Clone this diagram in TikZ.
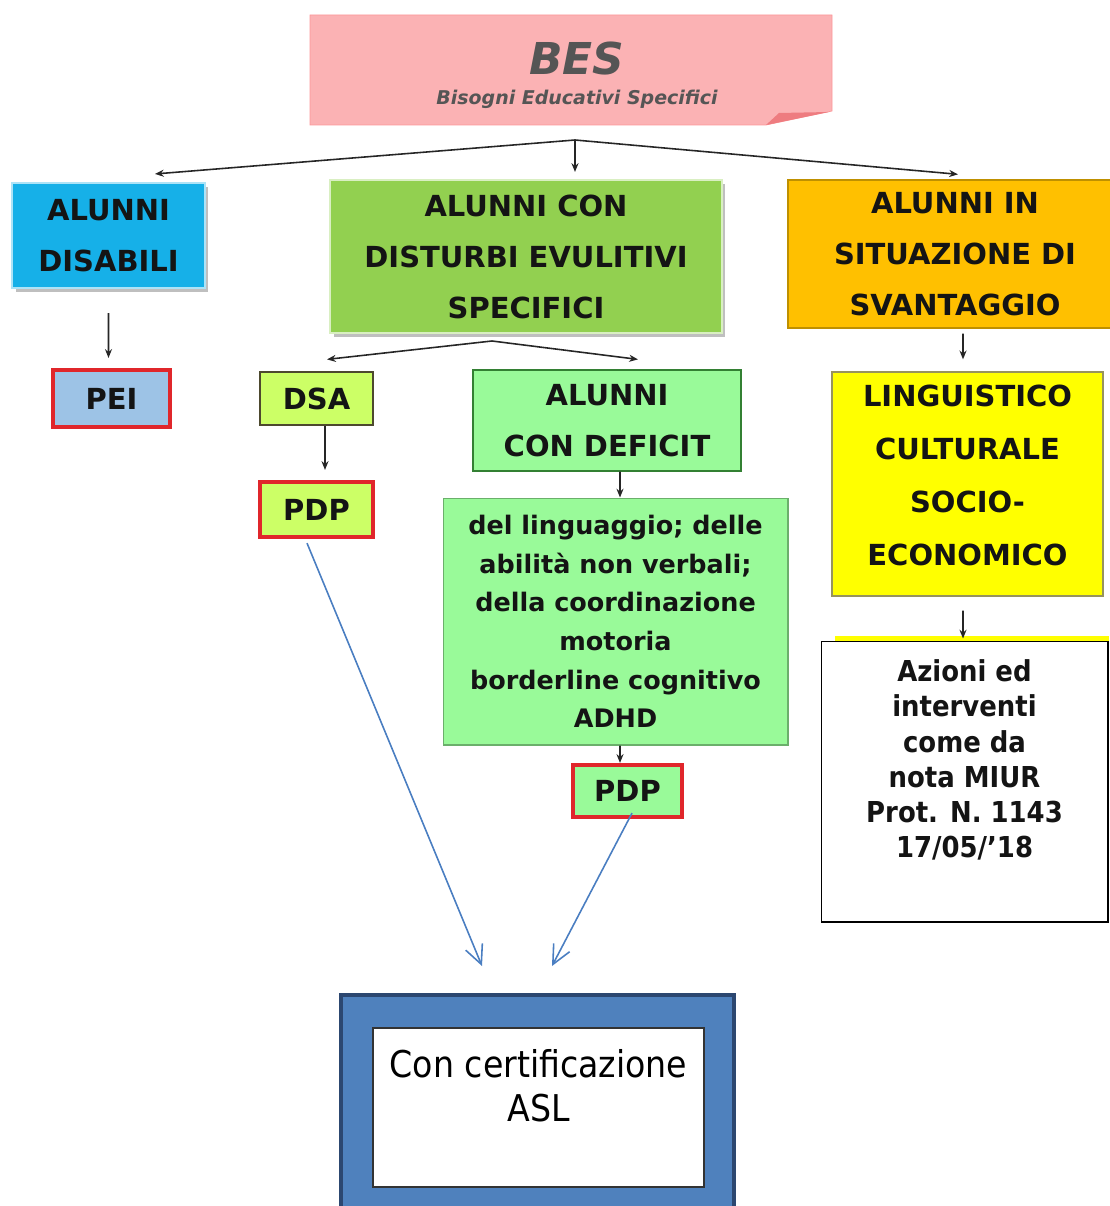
\documentclass[tikz,border=0pt]{standalone}
\usepackage{xcolor}
\usepackage{fontspec}
\setmainfont{DejaVu Sans}
\newfontfamily\tahoma{DejaVu Sans Condensed}[BoldFont={DejaVu Sans Condensed Bold}]
\usepackage{tikz}
\usetikzlibrary{arrows.meta, positioning, shadows}

\definecolor{besPink}{HTML}{FBB2B4}
\definecolor{besFold}{HTML}{EE7C80}
\definecolor{besText}{HTML}{555555}
\definecolor{disCyan}{HTML}{16B0E8}
\definecolor{dseGreen}{HTML}{92D050}
\definecolor{svOrange}{HTML}{FFC000}
\definecolor{dsaLime}{HTML}{CCFF66}
\definecolor{defGreen}{HTML}{99FA99}
\definecolor{socYellow}{HTML}{FFFF00}
\definecolor{peiBlue}{HTML}{9DC3E6}
\definecolor{pdpRed}{HTML}{E0262B}
\definecolor{aslBlue}{HTML}{4F81BD}
\definecolor{aslNavy}{HTML}{2C4770}
\definecolor{linkBlue}{HTML}{4A7EC1}
\definecolor{inkDark}{HTML}{141414}

\tikzset{
	capbox/.style={inner sep=0pt, align=center, text=inkDark, font=\bfseries\fontsize{16.5}{29}\selectfont, fill=#1},
	softbox/.style={capbox=#1, draw=white!65!#1, line width=1.2pt, drop shadow={shadow xshift=2pt, shadow yshift=-2pt, fill=black!25, opacity=1}},
	planbox/.style={capbox=#1, draw=pdpRed, line width=2.4pt},
	linkarr/.style={-{Stealth[length=5pt, width=4pt]}, line width=0.9pt, draw=black!85},
	certarr/.style={-{Straight Barb[length=0.38cm, width=0.36cm]}, line width=0.9pt, draw=linkBlue},
}

\begin{document}
\begin{tikzpicture}[x=0.02cm, y=-0.02cm]
	\useasboundingbox (0,0) rectangle (1109,1206);

	% BES header
	\filldraw[fill=besPink, draw=besPink!85!red] (310,15) -- (832,15) -- (832,111) -- (766,125) -- (310,125) -- cycle;
	\fill[besFold] (766,125) -- (829,112) -- (779,113) -- cycle;
	\node[font=\bfseries\itshape\fontsize{25}{30}\selectfont, text=besText] (bes) at (577,59) {BES};
	\node[font=\bfseries\itshape\fontsize{10.8}{13}\selectfont, text=besText] (besSub) at (577,99) {Bisogni Educativi Specifici};

	% First level
	\node[softbox=disCyan, minimum width=3.86cm, minimum height=2.1cm] (disabili) at (108.5,235.5) {ALUNNI\\DISABILI};
	\node[softbox=dseGreen, minimum width=7.84cm, minimum height=3.06cm] (dse) at (526,256.5) {ALUNNI CON\\DISTURBI EVULITIVI\\SPECIFICI};
	\node[capbox=svOrange, draw=svOrange!75!black, line width=0.8pt, minimum width=6.68cm, minimum height=2.96cm] (svantaggio) at (955,254) {ALUNNI IN\\SITUAZIONE DI\\SVANTAGGIO};

	% Second level
	\node[planbox=peiBlue, minimum width=2.34cm, minimum height=1.14cm] (pei) at (111.5,398.5) {PEI};
	\node[capbox=dsaLime, draw=black!60!olive, line width=0.7pt, minimum width=2.26cm, minimum height=1.06cm] (dsa) at (316.5,398.5) {DSA};
	\node[planbox=dsaLime, minimum width=2.26cm, minimum height=1.1cm] (pdpA) at (316.5,509.5) {PDP};
	\node[capbox=defGreen, draw=black!50!green!60!gray, line width=0.7pt, minimum width=5.36cm, minimum height=2.02cm] (deficit) at (607,420.5) {ALUNNI\\CON DEFICIT};
	\node[capbox=defGreen, draw=defGreen!70!black, line width=0.6pt, font=\bfseries\fontsize{14.5}{22}\selectfont, minimum width=6.9cm, minimum height=4.94cm] (deficitList) at (615.5,621.5) {del linguaggio; delle\\abilità non verbali;\\della coordinazione\\motoria\\borderline cognitivo\\ADHD};
	\node[planbox=defGreen, minimum width=2.18cm, minimum height=1.04cm] (pdpB) at (627.5,791) {PDP};
	\node[capbox=socYellow, draw=black!45!yellow!70!gray, line width=0.8pt, font=\bfseries\fontsize{16.5}{30}\selectfont, minimum width=5.42cm, minimum height=4.48cm] (socio) at (967.5,484) {LINGUISTICO\\CULTURALE\\SOCIO-\\ECONOMICO\\[-20pt]\mbox{}};

	% Note box
	\fill[socYellow] (835,636) rectangle (1109,642);
	\node[fill=white, draw=black, line width=0.6pt, align=center, inner sep=0pt, text=inkDark, font=\tahoma\bfseries\fontsize{16.4}{20}\selectfont, minimum width=5.74cm, minimum height=5.62cm] (azioni) at (964.5,781.5) {Azioni ed\\interventi\\come da\\ nota MIUR\\Prot. N. 1143\\17/05/’18\\[6pt]\mbox{}};

	% Certification
	\node[fill=aslBlue, draw=aslNavy, line width=1.8pt, minimum width=7.86cm, minimum height=4.6cm] (aslOuter) at (537.5,1110) {};
	\node[fill=white, draw=black!80, line width=0.8pt, align=center, inner sep=0pt, font=\tahoma\fontsize{21}{25}\selectfont, minimum width=6.62cm, minimum height=3.18cm] (asl) at (538.5,1107.5) {Con certificazione\\ASL\\\mbox{}};

	% Arrows
	\coordinate (besSplit) at (575,140);
	\coordinate (dseSplit) at (492,341);
	\draw[linkarr] (besSplit) -- ([xshift=0.93cm, yshift=0.16cm]disabili.north);
	\draw[linkarr] (besSplit) -- ([xshift=0.98cm, yshift=0.14cm]dse.north);
	\draw[linkarr] (besSplit) -- ([xshift=0.06cm, yshift=0.1cm]svantaggio.north);
	\draw[linkarr] ([yshift=-0.48cm]disabili.south) -- ([xshift=-0.06cm, yshift=0.2cm]pei.north);
	\draw[linkarr] (dseSplit) -- ([xshift=0.21cm, yshift=0.24cm]dsa.north);
	\draw[linkarr] (dseSplit) -- ([xshift=0.62cm, yshift=0.2cm]deficit.north);
	\draw[linkarr] ([xshift=0.17cm]dsa.south) -- ([xshift=0.17cm, yshift=0.2cm]pdpA.north);
	\draw[linkarr] ([xshift=0.26cm]deficit.south) -- ([xshift=0.09cm]deficitList.north);
	\draw[linkarr] ([xshift=0.09cm]deficitList.south) -- ([xshift=-0.15cm]pdpB.north);
	\draw[linkarr] ([xshift=0.16cm, yshift=-0.1cm]svantaggio.south) -- ([xshift=-0.09cm, yshift=0.24cm]socio.north);
	\draw[linkarr] ([xshift=-0.09cm, yshift=-0.28cm]socio.south) -- ([xshift=-0.03cm, yshift=0.04cm]azioni.north);

	% Links to certification
	\coordinate (certA) at (482,966);
	\coordinate (certB) at (552,966);
	\draw[certarr] ([xshift=-0.19cm, yshift=-0.08cm]pdpA.south) -- (certA);
	\draw[certarr] ([xshift=0.09cm, yshift=0.12cm]pdpB.south) -- (certB);
\end{tikzpicture}
\end{document}
